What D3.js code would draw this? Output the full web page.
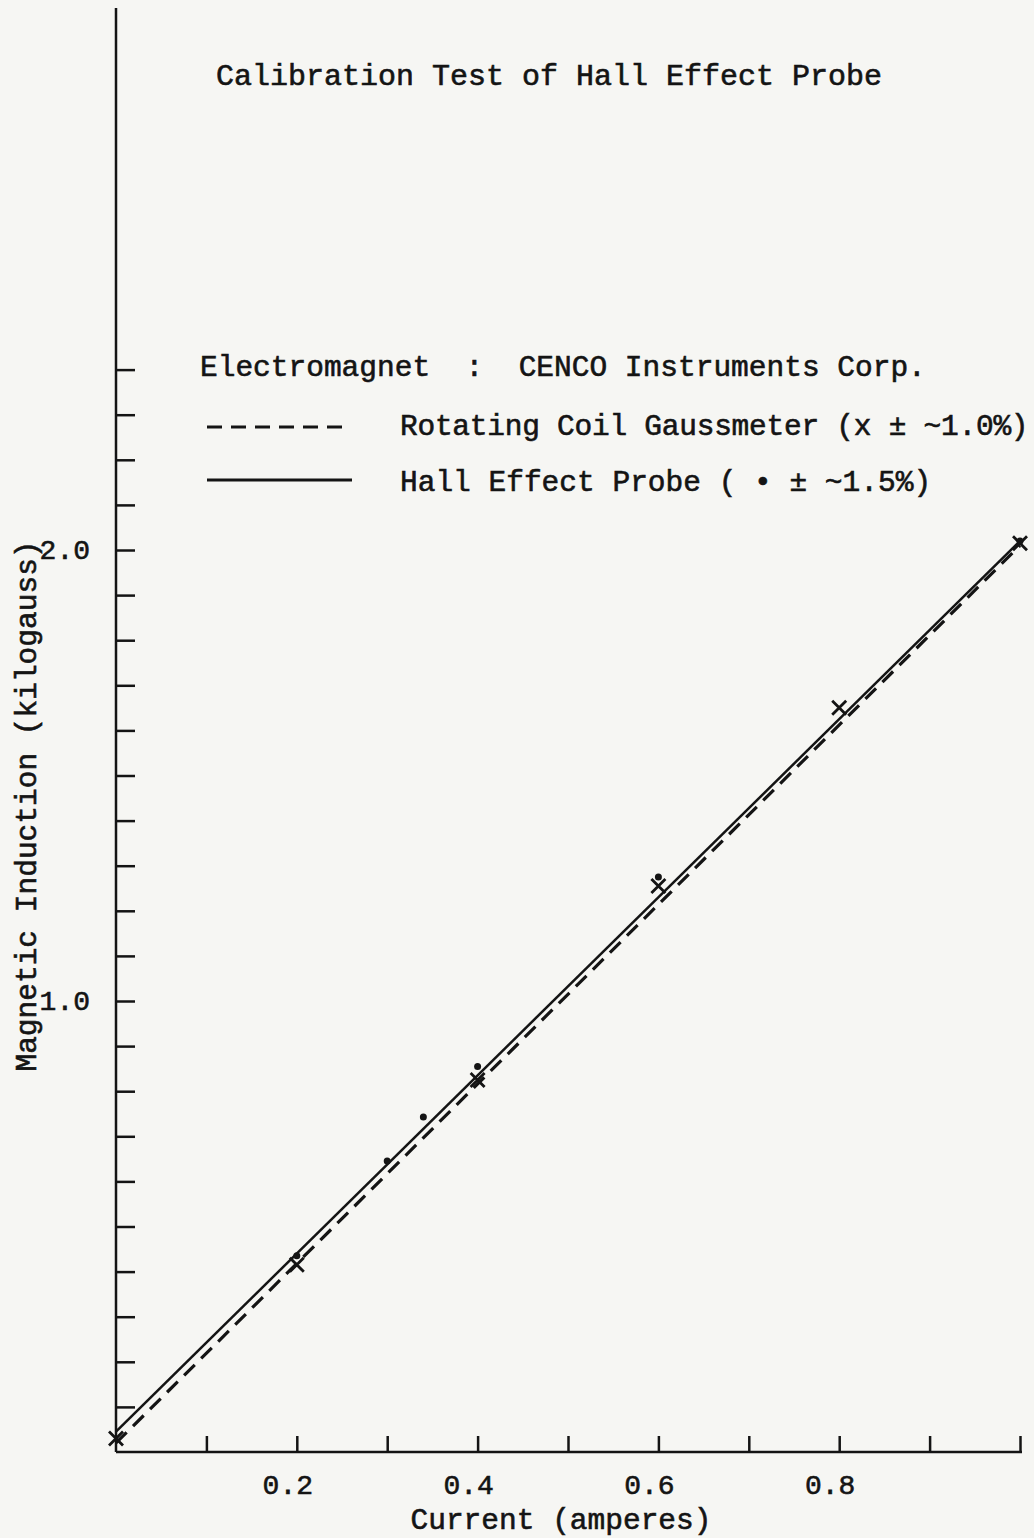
<!DOCTYPE html>
<html>
<head>
<meta charset="utf-8">
<script src="https://cdn.jsdelivr.net/npm/d3@7"></script>
<style>
  body { margin: 0; background: #f6f6f3; }
  svg { display: block; }
  text { font-family: "Liberation Mono", "DejaVu Sans Mono", monospace; fill: #141414; stroke: #141414; stroke-width: 0.6px; }
</style>
</head>
<body>
<script>
var coilCurrent = [0, 0.2, 0.4, 0.6, 0.8, 1.0];
var coilField = [0.03, 0.415, 0.825, 1.255, 1.65, 2.015];

var hallCurrent = [0.2, 0.3, 0.34, 0.4, 0.6, 1.0];
var hallField = [0.435, 0.645, 0.743, 0.855, 1.275, 2.02];

// fitted straight lines (end points)
var fitCurrent = [0, 1.0];
var coilFit = [0.02, 2.01];
var hallFit = [0.045, 2.02];

var xTicks = [0.1, 0.2, 0.3, 0.4, 0.5, 0.6, 0.7, 0.8, 0.9, 1.0];
var xLabels = [0.2, 0.4, 0.6, 0.8];
var yTicks = d3.range(1, 25).map(function(i) { return i / 10; });
var yLabels = [1.0, 2.0];

var width = 1034;
var height = 1538;
var ink = "#141414";

var svg = d3.select("body")
  .append("svg")
  .attr("width", width)
  .attr("height", height);

var x = d3.scaleLinear().domain([0, 1]).range([116, 1020]);
var y = d3.scaleLinear().domain([0, 2]).range([1452, 550]);

// y axis: long line running to the top of the page
svg.append("line")
  .attr("x1", x(0)).attr("x2", x(0))
  .attr("y1", 8).attr("y2", y(0))
  .attr("stroke", ink).attr("stroke-width", 2.5);

var yAxis = svg.append("g")
  .attr("transform", "translate(" + x(0) + ",0)")
  .call(d3.axisRight(y).tickValues(yTicks).tickSize(19).tickFormat(""));
yAxis.select(".domain").remove();
yAxis.selectAll("line").attr("stroke", ink).attr("stroke-width", 2.5);

svg.selectAll(".ylab")
  .data(yLabels)
  .enter()
  .append("text")
  .attr("class", "ylab")
  .attr("x", 90)
  .attr("y", function(d) { return y(d) + 9; })
  .attr("text-anchor", "end")
  .style("font-size", "28px")
  .text(d3.format(".1f"));

// x axis
svg.append("line")
  .attr("x1", x(0)).attr("x2", x(1) + 2)
  .attr("y1", y(0)).attr("y2", y(0))
  .attr("stroke", ink).attr("stroke-width", 2.5);

var xAxis = svg.append("g")
  .attr("transform", "translate(0," + y(0) + ")")
  .call(d3.axisTop(x).tickValues(xTicks).tickSize(16).tickFormat(""));
xAxis.select(".domain").remove();
xAxis.selectAll("line").attr("stroke", ink).attr("stroke-width", 2.5);

svg.selectAll(".xlab")
  .data(xLabels)
  .enter()
  .append("text")
  .attr("class", "xlab")
  .attr("x", function(d) { return x(d) - 9; })
  .attr("y", 1494)
  .attr("text-anchor", "middle")
  .style("font-size", "28px")
  .text(d3.format(".1f"));

// axis titles
svg.append("text")
  .attr("x", 561)
  .attr("y", 1529)
  .attr("text-anchor", "middle")
  .style("font-size", "29.5px")
  .text("Current (amperes)");

svg.append("text")
  .attr("transform", "translate(36,806) rotate(-90)")
  .attr("text-anchor", "middle")
  .style("font-size", "29.5px")
  .text("Magnetic Induction (kilogauss)");

// title
svg.append("text")
  .attr("x", 216)
  .attr("y", 85)
  .style("font-size", "30px")
  .text("Calibration Test of Hall Effect Probe");

// fitted lines
var line = d3.line()
  .x(function(d) { return x(d[0]); })
  .y(function(d) { return y(d[1]); });

svg.append("path")
  .datum(d3.zip(fitCurrent, coilFit))
  .attr("d", line)
  .attr("fill", "none")
  .attr("stroke", ink)
  .attr("stroke-width", 3.2)
  .attr("stroke-dasharray", "15,9");

svg.append("path")
  .datum(d3.zip(fitCurrent, hallFit))
  .attr("d", line)
  .attr("fill", "none")
  .attr("stroke", ink)
  .attr("stroke-width", 2.5);

// crosses: rotating coil gaussmeter
svg.selectAll(".cross")
  .data(d3.zip(coilCurrent, coilField))
  .enter()
  .append("path")
  .attr("class", "cross")
  .attr("d", function(d) {
    var cx = x(d[0]), cy = y(d[1]), s = 7;
    return "M" + (cx - s) + "," + (cy - s) + "L" + (cx + s) + "," + (cy + s) +
      "M" + (cx - s) + "," + (cy + s) + "L" + (cx + s) + "," + (cy - s);
  })
  .attr("stroke", ink)
  .attr("stroke-width", 2.8);

// dots: hall effect probe
svg.selectAll(".dot")
  .data(d3.zip(hallCurrent, hallField))
  .enter()
  .append("circle")
  .attr("class", "dot")
  .attr("cx", function(d) { return x(d[0]); })
  .attr("cy", function(d) { return y(d[1]); })
  .attr("r", 3.5)
  .attr("fill", ink);

// legend block
svg.append("text")
  .attr("x", 200)
  .attr("y", 376)
  .attr("xml:space", "preserve")
  .style("white-space", "pre")
  .style("font-size", "29.5px")
  .text("Electromagnet  :  CENCO Instruments Corp.");

svg.append("line")
  .attr("x1", 207).attr("x2", 347)
  .attr("y1", 427).attr("y2", 427)
  .attr("stroke", ink)
  .attr("stroke-width", 3.2)
  .attr("stroke-dasharray", "15,9");

svg.append("text")
  .attr("x", 400)
  .attr("y", 435)
  .attr("xml:space", "preserve")
  .style("white-space", "pre")
  .style("font-size", "29.5px")
  .style("letter-spacing", "-0.25px")
  .text("Rotating Coil Gaussmeter (x \u00b1 ~1.0%)");

svg.append("line")
  .attr("x1", 207).attr("x2", 352)
  .attr("y1", 480).attr("y2", 480)
  .attr("stroke", ink)
  .attr("stroke-width", 2.8);

svg.append("text")
  .attr("x", 400)
  .attr("y", 491)
  .attr("xml:space", "preserve")
  .style("white-space", "pre")
  .style("font-size", "29.5px")
  .text("Hall Effect Probe ( \u2022 \u00b1 ~1.5%)");
</script>
</body>
</html>
